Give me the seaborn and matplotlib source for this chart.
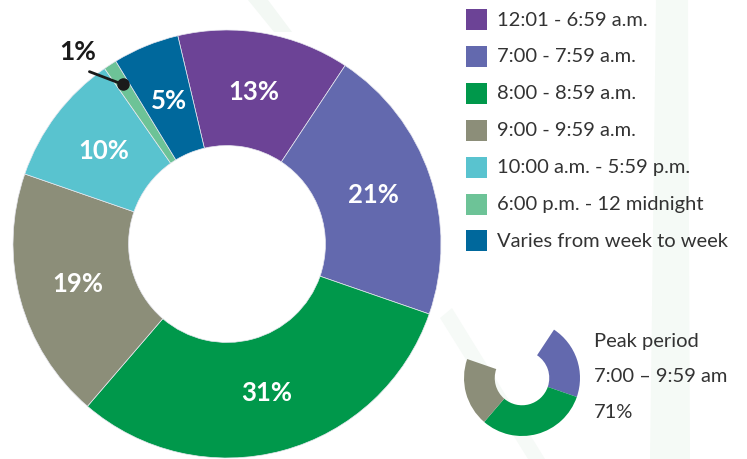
import matplotlib.pyplot as plt
import seaborn as sns
import numpy as np
from matplotlib.patches import Polygon

sns.set_theme(style="white")
plt.rcParams['font.family'] = ['Lato', 'DejaVu Sans']

# data
periods = ['12:01 - 6:59 a.m.', '7:00 - 7:59 a.m.', '8:00 - 8:59 a.m.',
           '9:00 - 9:59 a.m.', '10:00 a.m. - 5:59 p.m.', '6:00 p.m. - 12 midnight',
           'Varies from week to week']
shares = [13, 21, 31, 19, 10, 1, 5]
colors = ['#6c4396', '#6369ae', '#00984b', '#8c8e79', '#59c3cf', '#6dc397', '#00689c']
peak = [False, True, True, True, False, False, False]
peak_lines = ['Peak period', '7:00 \u2013 9:59 am', '71%']

W, H = 747, 459
fig = plt.figure(figsize=(W / 100, H / 100), dpi=100)


def px_axes(cx, cy, r):
    return fig.add_axes([(cx - r) / W, (H - cy - r) / H, 2 * r / W, 2 * r / H])


# faint background bands
bg = fig.add_axes([0, 0, 1, 1], zorder=-5)
bg.set_xlim(0, W)
bg.set_ylim(H, 0)
bg.axis('off')
bg.add_patch(Polygon([(656, 0), (688, 0), (690, 459), (650, 459)], color='#f5faf6', lw=0))
bg.add_patch(Polygon([(248, 0), (268, 0), (292, 32), (274, 32)], color='#f3f8f4', lw=0))
bg.add_patch(Polygon([(440, 318), (452, 308), (545, 459), (528, 459)], color='#f6faf7', lw=0))

# main donut
ax = px_axes(227, 244, 214)
wedges, _, autotexts = ax.pie(
    shares, colors=colors, startangle=103.3, counterclock=False,
    radius=1, wedgeprops=dict(width=0.54, edgecolor='#e8e8f0', linewidth=0.5),
    autopct=lambda p: '' if p < 2 else f'{p:.0f}%', pctdistance=0.72)
for t in autotexts:
    t.set_color('white')
    t.set_fontsize(18.5)
    t.set_fontweight('bold')
ax.set_xlim(-1, 1)
ax.set_ylim(-1, 1)

# callout for the 1% slice
w = wedges[5]
mid = np.deg2rad((w.theta1 + w.theta2) / 2)
dot = (0.89 * np.cos(mid), 0.89 * np.sin(mid))
ax.plot(*dot, 'o', color='#1a1a1a', ms=8, zorder=5)
ax.annotate('', xy=dot, xytext=(-0.655, 0.81),
            arrowprops=dict(arrowstyle='-', color='#1a1a1a', lw=2))
ax.text(-0.70, 0.895, f'{shares[5]}%', ha='center', va='center',
        fontsize=19, fontweight='bold', color='#1a1a1a')

# legend
lg = fig.add_axes([0, 0, 1, 1], zorder=3)
lg.set_xlim(0, W)
lg.set_ylim(H, 0)
lg.axis('off')
for i, (lab, c) in enumerate(zip(periods, colors)):
    y = 19 + i * 36.9
    lg.add_patch(plt.Rectangle((466, y - 10), 21, 21, color=c, lw=0))
    lg.text(497, y + 1, lab, va='center', ha='left', fontsize=14.5, color='#333333')

# peak period small donut
ax2 = px_axes(522, 378, 58)
ax2.pie(shares, colors=[c if p else 'none' for c, p in zip(colors, peak)],
        startangle=103.3, counterclock=False, radius=1,
        wedgeprops=dict(width=0.53, linewidth=0))
ax2.set_xlim(-1, 1)
ax2.set_ylim(-1, 1)

for i, line in enumerate(peak_lines):
    lg.text(594, 341 + i * 35.5, line, va='center', ha='left', fontsize=14.5, color='#333333')

fig.savefig('out.png', dpi=100)
